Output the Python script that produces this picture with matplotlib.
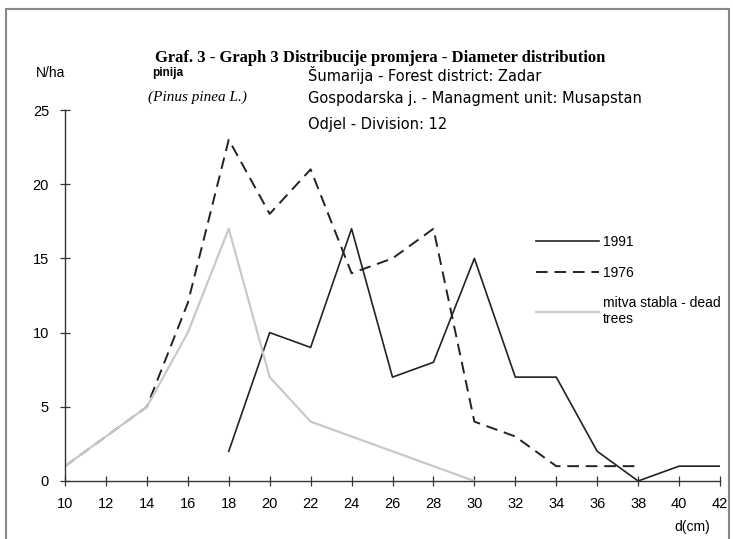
import matplotlib
matplotlib.use('Agg')
import matplotlib.pyplot as plt
from matplotlib.patches import Rectangle

# diameter classes (cm)
d_1991 = [18, 20, 22, 24, 26, 28, 30, 32, 34, 36, 38, 40, 42]
n_1991 = [2, 10, 9, 17, 7, 8, 15, 7, 7, 2, 0, 1, 1]

d_1976 = [10, 12, 14, 16, 18, 20, 22, 24, 26, 28, 30, 32, 34, 36, 38]
n_1976 = [1, 3, 5, 12, 23, 18, 21, 14, 15, 17, 4, 3, 1, 1, 1]

d_dead = [10, 12, 14, 16, 18, 20, 22, 24, 26, 28, 30]
n_dead = [1, 3, 5, 10, 17, 7, 4, 3, 2, 1, 0]

x_ticks = list(range(10, 43, 2))
y_ticks = [0, 5, 10, 15, 20, 25]

narrow = ['Liberation Sans', 'DejaVu Sans']
wide = ['DejaVu Sans']
serif = ['Liberation Serif', 'DejaVu Serif']

fig = plt.figure(figsize=(7.33, 5.39), dpi=100)
ax = fig.add_axes([65 / 733, 1 - 481 / 539, 655 / 733, 371 / 539])

ax.plot(d_1991, n_1991, color='#222222', linewidth=1.2, label='1991')
ax.plot(d_1976, n_1976, color='#222222', linewidth=1.4,
        linestyle=(0, (6, 3.5)), label='1976')
ax.plot(d_dead, n_dead, color='#c9c9c9', linewidth=1.6,
        label='mitva stabla - dead\ntrees')

ax.set_xlim(10, 42)
ax.set_ylim(0, 25)
ax.set_xticks(x_ticks)
ax.set_yticks(y_ticks)
ax.set_xticklabels([str(v) for v in x_ticks], family=narrow, fontsize=10.5)
ax.set_yticklabels([str(v) for v in y_ticks], family=narrow, fontsize=10.5)
ax.tick_params(direction='inout', length=7, width=0.9, color='#333333', pad=8)
for s in ['top', 'right']:
    ax.spines[s].set_visible(False)
for s in ['left', 'bottom']:
    ax.spines[s].set_linewidth(1.0)
    ax.spines[s].set_color('#333333')
ax.patch.set_alpha(0)

ax.legend(loc='upper left', bbox_to_anchor=(0.7, 0.697), frameon=False,
          handlelength=4.5, handletextpad=0.3, labelspacing=1.2,
          prop={'family': narrow, 'size': 10})

fig.text(380 / 733, 1 - 58 / 539,
         'Graf. 3 - Graph 3 Distribucije promjera - Diameter distribution',
         ha='center', va='center', family=serif, fontweight='bold', fontsize=12)
fig.text(36 / 733, 1 - 73 / 539, 'N/ha', ha='left', va='center',
         family=narrow, fontsize=10)
fig.text(152 / 733, 1 - 73 / 539, 'pinija', ha='left', va='center',
         family=narrow, fontweight='bold', fontsize=8.5)
fig.text(148 / 733, 1 - 97 / 539, '(Pinus pinea L.)', ha='left', va='center',
         family=serif, style='italic', fontsize=11)
fig.text(308 / 733, 1 - 75 / 539, 'Šumarija - Forest district: Zadar',
         ha='left', va='center', family=wide, fontsize=10.5)
fig.text(308 / 733, 1 - 99 / 539, 'Gospodarska j. - Managment unit: Musapstan',
         ha='left', va='center', family=wide, fontsize=10.5)
fig.text(308 / 733, 1 - 124 / 539, 'Odjel - Division: 12',
         ha='left', va='center', family=wide, fontsize=10.5)
fig.text(692 / 733, 1 - 527 / 539, 'd(cm)', ha='center', va='center',
         family=narrow, fontsize=10)

fig.patches.append(Rectangle((6 / 733, -0.02), 723 / 733, 1.02 - 9 / 539,
                             transform=fig.transFigure, fill=False,
                             edgecolor='#888888', linewidth=1.5))

fig.savefig('out.png', dpi=100)
